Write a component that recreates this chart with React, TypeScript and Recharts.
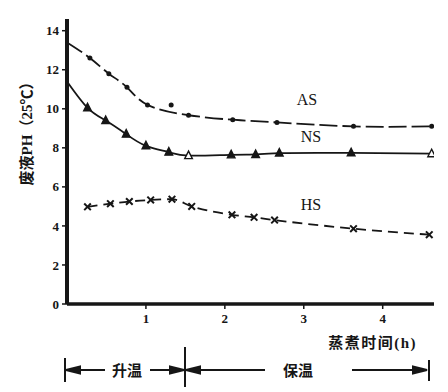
import React from "react";
import { ComposedChart, Line, XAxis, YAxis } from "recharts";

// pH of spent liquor (25°C) vs cooking time (h)
const asTime = [0, 0.29, 0.53, 0.76, 1.02, 1.54, 2.1, 2.66, 3.63, 4.62];
const asPH = [13.4, 12.6, 11.8, 11.1, 10.2, 9.67, 9.44, 9.3, 9.1, 9.1];
const asStrayTime = [1.32];
const asStrayPH = [10.2];

const nsTime = [0, 0.26, 0.49, 0.75, 1.0, 1.29, 1.54, 2.08, 2.39, 2.69, 3.6, 4.62];
const nsPH = [11.4, 10.05, 9.4, 8.7, 8.1, 7.78, 7.6, 7.64, 7.66, 7.73, 7.74, 7.7];

const hsTime = [0.26, 0.55, 0.79, 1.06, 1.33, 1.58, 2.09, 2.37, 2.63, 3.63, 4.59];
const hsPH = [4.98, 5.14, 5.25, 5.33, 5.37, 5.0, 4.57, 4.44, 4.3, 3.86, 3.55];

const xTicks = [1, 2, 3, 4];
const yTicks = [0, 2, 4, 6, 8, 10, 12, 14];

const toRows = (ts: number[], ps: number[]) => ts.map((t, i) => ({ t, ph: ps[i] }));

const asData = toRows(asTime, asPH);
const asStray = toRows(asStrayTime, asStrayPH);
const nsData = toRows(nsTime, nsPH);
const hsData = toRows(hsTime, hsPH);

const INK = "#161616";
const FONT = '"Liberation Serif", "Noto Sans CJK SC", serif';
const NS_OPEN = [6, 11];

const AsDot = (p: any) =>
  p.payload.t === 0 ? (
    <g key={`a${p.index}`} />
  ) : (
    <circle key={`a${p.index}`} cx={p.cx} cy={p.cy} r={2.5} fill={INK} />
  );

const NsDot = (p: any) => {
  if (p.payload.t === 0) return <g key={`n${p.index}`} />;
  const { cx, cy } = p;
  const open = NS_OPEN.includes(p.index);
  return (
    <polygon
      key={`n${p.index}`}
      points={`${cx},${cy - 4.5} ${cx - 3.8},${cy + 3} ${cx + 3.8},${cy + 3}`}
      fill={open ? "#fff" : INK}
      stroke={INK}
      strokeWidth={1.4}
    />
  );
};

const HsDot = (p: any) => {
  const { cx, cy } = p;
  return (
    <path
      key={`h${p.index}`}
      d={`M${cx - 3.3},${cy - 3.3}L${cx + 3.3},${cy + 3.3}M${cx + 3.3},${cy - 3.3}L${cx - 3.3},${cy + 3.3}`}
      stroke={INK}
      strokeWidth={2}
    />
  );
};

const tickStyle = { fontFamily: FONT, fontSize: 13, fontWeight: 700, fill: INK };

function Phases() {
  const cy = 370;
  const txt = { fontFamily: FONT, fontSize: 15, fontWeight: 700, fill: INK } as const;
  return (
    <svg width={448} height={392} style={{ position: "absolute", left: 0, top: 0, pointerEvents: "none" }}>
      <g stroke={INK} strokeWidth={2} fill={INK}>
        <line x1={65} y1={358} x2={65} y2={382} />
        <polygon points={`66,${cy} 80,${cy - 3.5} 80,${cy + 3.5}`} />
        <line x1={66} y1={cy} x2={105} y2={cy} />
        <line x1={150} y1={cy} x2={183} y2={cy} />
        <polygon points={`184,${cy} 170,${cy - 3.5} 170,${cy + 3.5}`} />
        <line x1={185} y1={347} x2={185} y2={387} />
        <polygon points={`186,${cy} 200,${cy - 3.5} 200,${cy + 3.5}`} />
        <line x1={186} y1={cy} x2={265} y2={cy} />
        <line x1={352} y1={cy} x2={426} y2={cy} />
        <polygon points={`427,${cy} 413,${cy - 3.5} 413,${cy + 3.5}`} />
        <line x1={429} y1={360} x2={429} y2={381} />
      </g>
      <text x={127} y={376} textAnchor="middle" style={txt}>升温</text>
      <text x={298} y={376} textAnchor="middle" style={txt}>保温</text>
      <g style={{ fontFamily: FONT, fontSize: 16, fill: INK }}>
        <text x={307} y={105} textAnchor="middle">AS</text>
        <text x={311} y={142} textAnchor="middle">NS</text>
        <text x={311} y={210} textAnchor="middle">HS</text>
      </g>
    </svg>
  );
}

export default function App() {
  return (
    <div style={{ position: "absolute", left: 0, top: 0, width: 448, height: 392, background: "#fff", fontFamily: FONT }}>
      <ComposedChart width={448} height={392} margin={{ top: 19, right: 14, bottom: 58, left: 0 }}>
        <XAxis
          dataKey="t"
          type="number"
          domain={[0, 4.65]}
          ticks={xTicks}
          allowDataOverflow
          height={30}
          axisLine={{ stroke: INK, strokeWidth: 3.5 }}
          tickLine={{ stroke: INK, strokeWidth: 1.5 }}
          tickSize={5}
          tickMargin={5}
          tick={tickStyle}
          label={{
            content: (p: any) => (
              <text
                x={p.viewBox.x + p.viewBox.width - 17}
                y={p.viewBox.y + 44}
                textAnchor="end"
                letterSpacing={1.5}
                style={{ fontFamily: FONT, fontSize: 15, fontWeight: 700, fill: INK }}
              >
                蒸煮时间(h)
              </text>
            ),
          }}
        />
        <YAxis
          dataKey="ph"
          type="number"
          domain={[0, 14.6]}
          ticks={yTicks}
          width={67}
          axisLine={{ stroke: INK, strokeWidth: 4 }}
          tickLine={{ stroke: INK, strokeWidth: 1.5 }}
          tickSize={5}
          tickMargin={3}
          tick={tickStyle}
          label={{
            content: () => (
              <text
                x={27}
                y={130}
                textAnchor="middle"
                dominantBaseline="central"
                transform="rotate(-90 27 130)"
                style={{ fontFamily: FONT, fontSize: 15, fontWeight: 700, fill: INK }}
              >
                废液PH（25℃）
              </text>
            ),
          }}
        />
        <Line
          data={asData}
          dataKey="ph"
          type="natural"
          stroke={INK}
          strokeWidth={1.8}
          strokeDasharray="18 5"
          dot={AsDot}
          activeDot={false}
          isAnimationActive={false}
        />
        <Line
          data={asStray}
          dataKey="ph"
          stroke="none"
          dot={AsDot}
          activeDot={false}
          isAnimationActive={false}
        />
        <Line
          data={nsData}
          dataKey="ph"
          type="natural"
          stroke={INK}
          strokeWidth={1.8}
          dot={NsDot}
          activeDot={false}
          isAnimationActive={false}
        />
        <Line
          data={hsData}
          dataKey="ph"
          type="monotone"
          stroke={INK}
          strokeWidth={1.8}
          strokeDasharray="10 6"
          dot={HsDot}
          activeDot={false}
          isAnimationActive={false}
        />
      </ComposedChart>
      <Phases />
    </div>
  );
}
